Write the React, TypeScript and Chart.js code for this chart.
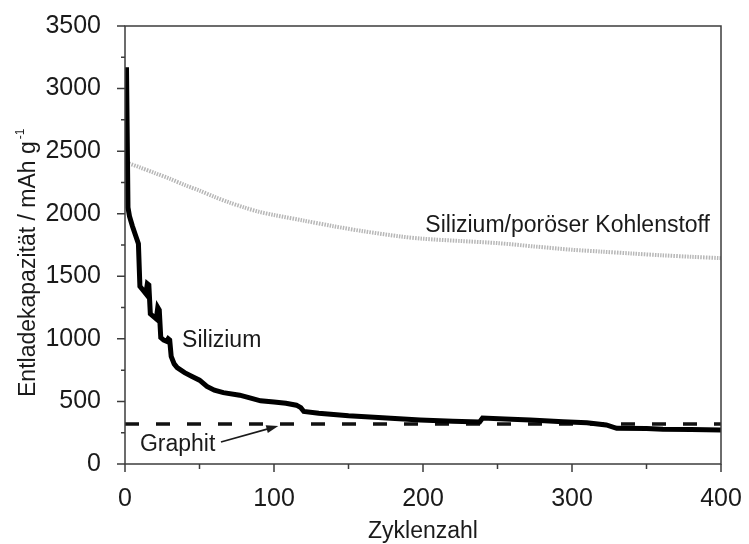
import React, { useEffect, useRef } from "react";
import { Chart, registerables } from "chart.js";

Chart.register(...registerables);

// ---- data ----
const siliziumX = [1, 2, 3, 5, 7, 9, 10, 12, 14, 15, 16, 17, 19, 21, 22, 23, 24, 26, 28, 29, 30, 31, 33, 35, 40, 45, 50, 55, 60, 66, 77, 85, 91, 100, 108, 115, 118, 120, 130, 140, 150, 170, 198, 220, 238, 240, 255, 272, 294, 310, 323, 330, 350, 361, 380, 400];
const siliziumY = [3170, 2050, 1980, 1900, 1830, 1760, 1420, 1390, 1360, 1440, 1430, 1200, 1180, 1160, 1250, 1230, 1010, 990, 980, 1000, 990, 860, 800, 770, 730, 700, 670, 620, 590, 570, 550, 525, 505, 495, 485, 470, 450, 420, 405, 395, 385, 372, 352, 342, 335, 368, 360, 352, 338, 330, 312, 285, 283, 277, 275, 272];

const porousX = [1, 10, 20, 30, 40, 50, 60, 70, 80, 90, 100, 120, 140, 160, 185, 200, 225, 250, 275, 300, 320, 340, 360, 380, 400];
const porousY = [2410, 2370, 2325, 2280, 2230, 2185, 2135, 2090, 2050, 2015, 1990, 1945, 1900, 1860, 1818, 1800, 1782, 1765, 1738, 1712, 1697, 1682, 1668, 1656, 1645];

const graphitX = [0, 400];
const graphitY = [320, 320];

const xTickValues = [0, 100, 200, 300, 400];
const yTickValues = [0, 500, 1000, 1500, 2000, 2500, 3000, 3500];

const xTitle = "Zyklenzahl";
const yTitle = "Entladekapazität / mAh g";
const yTitleSup = "-1";
const labelSilizium = "Silizium";
const labelPorous = "Silizium/poröser Kohlenstoff";
const labelGraphit = "Graphit";

const FONT = '"Liberation Sans", Arial, sans-serif';

const toPts = (xs: number[], ys: number[]) => xs.map((x, i) => ({ x, y: ys[i] }));

const decorPlugin = {
  id: "decor",
  afterDatasetsDraw(chart: any) {
    const { ctx, chartArea: a, scales } = chart;
    const x = scales.x;
    const y = scales.y;
    ctx.save();
    // frame
    ctx.strokeStyle = "#3c3c3c";
    ctx.lineWidth = 1.5;
    ctx.strokeRect(a.left, a.top, a.right - a.left, a.bottom - a.top);
    // ticks
    ctx.beginPath();
    for (let v = 0; v <= 400; v += 50) {
      const px = x.getPixelForValue(v);
      const len = v % 100 === 0 ? 8 : 5;
      ctx.moveTo(px, a.bottom);
      ctx.lineTo(px, a.bottom + len);
    }
    for (let v = 0; v <= 3500; v += 250) {
      const py = y.getPixelForValue(v);
      const len = v % 500 === 0 ? 8 : 4;
      ctx.moveTo(a.left, py);
      ctx.lineTo(a.left - len, py);
    }
    ctx.stroke();

    // texts
    ctx.fillStyle = "#1a1a1a";
    ctx.font = `23px ${FONT}`;
    ctx.textBaseline = "alphabetic";

    ctx.textAlign = "center";
    ctx.fillText(xTitle, (a.left + a.right) / 2, 538);

    ctx.save();
    ctx.translate(35, 397);
    ctx.rotate(-Math.PI / 2);
    ctx.textAlign = "left";
    ctx.fillText(yTitle, 0, 0);
    const w = ctx.measureText(yTitle).width;
    ctx.font = `12px ${FONT}`;
    ctx.fillText(yTitleSup, w + 2, -11);
    ctx.restore();

    ctx.font = `23px ${FONT}`;
    ctx.textAlign = "left";
    ctx.fillText(labelSilizium, x.getPixelForValue(38.3), y.getPixelForValue(935));
    ctx.textAlign = "right";
    ctx.fillText(labelPorous, x.getPixelForValue(392.6), y.getPixelForValue(1856));
    ctx.textAlign = "left";
    ctx.fillText(labelGraphit, x.getPixelForValue(10), y.getPixelForValue(100));

    // arrow
    const x1 = x.getPixelForValue(64.4), y1 = y.getPixelForValue(176);
    const x2 = x.getPixelForValue(102.9), y2 = y.getPixelForValue(304);
    const ang = Math.atan2(y2 - y1, x2 - x1);
    ctx.strokeStyle = "#1a1a1a";
    ctx.lineWidth = 1.6;
    ctx.beginPath();
    ctx.moveTo(x1, y1);
    ctx.lineTo(x2 - 8 * Math.cos(ang), y2 - 8 * Math.sin(ang));
    ctx.stroke();
    ctx.beginPath();
    ctx.moveTo(x2, y2);
    ctx.lineTo(x2 - 12 * Math.cos(ang) + 4 * Math.sin(ang), y2 - 12 * Math.sin(ang) - 4 * Math.cos(ang));
    ctx.lineTo(x2 - 12 * Math.cos(ang) - 4 * Math.sin(ang), y2 - 12 * Math.sin(ang) + 4 * Math.cos(ang));
    ctx.closePath();
    ctx.fillStyle = "#1a1a1a";
    ctx.fill();
    ctx.restore();
  },
};

export default function App() {
  const ref = useRef<HTMLCanvasElement>(null);
  useEffect(() => {
    document.body.style.margin = "0";
    const canvas = ref.current;
    if (!canvas) return;
    const chart = new Chart(canvas, {
      type: "line",
      data: {
        datasets: [
          {
            label: labelSilizium,
            data: toPts(siliziumX, siliziumY),
            borderColor: "#000000",
            borderWidth: 5,
            pointRadius: 0,
            tension: 0,
            order: 0,
          },
          {
            label: labelGraphit,
            data: toPts(graphitX, graphitY),
            borderColor: "#111111",
            borderWidth: 3.5,
            borderDash: [14, 17],
            pointRadius: 0,
            order: 1,
          },
          {
            label: labelPorous,
            data: toPts(porousX, porousY),
            borderColor: "rgba(175,175,175,0.9)",
            borderWidth: 4,
            borderDash: [1.5, 1.2],
            pointRadius: 0,
            tension: 0.3,
            order: 2,
          },
        ],
      },
      options: {
        animation: false,
        responsive: false,
        maintainAspectRatio: false,
        events: [],
        layout: { padding: { top: 26, right: 28, left: 0, bottom: 0 } },
        plugins: { legend: { display: false }, tooltip: { enabled: false }, title: { display: false } },
        scales: {
          x: {
            type: "linear",
            min: 0,
            max: 400,
            grid: { display: false },
            border: { display: false },
            afterFit: (s: any) => { s.height = 80; s.paddingLeft = 0; s.paddingRight = 0; },
            afterBuildTicks: (s: any) => { s.ticks = xTickValues.map((v) => ({ value: v })); },
            ticks: { color: "#1a1a1a", font: { size: 25, family: FONT }, padding: 12, maxRotation: 0, callback: (v: any) => String(v) },
          },
          y: {
            type: "linear",
            min: 0,
            max: 3500,
            grid: { display: false },
            border: { display: false },
            afterFit: (s: any) => { s.width = 125; s.paddingTop = 0; s.paddingBottom = 0; },
            afterBuildTicks: (s: any) => { s.ticks = yTickValues.map((v) => ({ value: v })); },
            ticks: { color: "#1a1a1a", font: { size: 25, family: FONT }, padding: 16, callback: (v: any) => String(v) },
          },
        },
      },
      plugins: [decorPlugin],
    });
    return () => chart.destroy();
  }, []);
  return (
    <div style={{ width: 749, height: 544 }}>
      <canvas ref={ref} width={749} height={544} />
    </div>
  );
}
